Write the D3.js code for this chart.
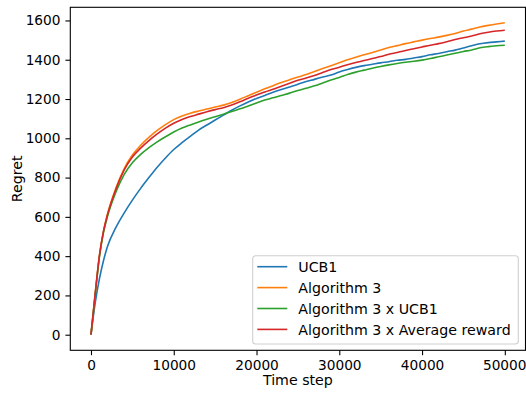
<!DOCTYPE html>
<html>
<head>
<meta charset="utf-8">
<script src="https://cdn.jsdelivr.net/npm/d3@7"></script>
<style>
  body { margin: 0; background: white; }
  text { font-family: "DejaVu Sans", sans-serif; fill: #000; }
</style>
</head>
<body>
<div id="viz"></div>
<script>
// values
var steps = [0, 500, 1000, 1500, 2000, 3000, 4000, 5000, 6000, 7000, 8000, 9000, 10000,
    11000, 12000, 13000, 14000, 15000, 16000, 17000, 18000, 19000, 20000,
    21000, 22000, 23000, 24000, 25000, 26000, 27000, 28000, 29000, 30000,
    31000, 32000, 33000, 34000, 35000, 36000, 37000, 38000, 39000, 40000,
    41000, 42000, 43000, 44000, 45000, 46000, 47000, 48000, 49000, 50000];

var ucb1 = [0, 160, 280, 375, 450, 545, 619, 685, 745, 800, 853, 900, 943,
    978, 1010, 1042, 1068, 1093, 1118, 1143, 1165, 1185, 1203,
    1218, 1234, 1248, 1261, 1275, 1289, 1300, 1312, 1322, 1338,
    1350, 1361, 1370, 1377, 1384, 1390, 1397, 1402, 1409, 1416,
    1425, 1432, 1441, 1449, 1460, 1471, 1481, 1487, 1491, 1495];

var alg3 = [0, 205, 395, 525, 615, 745, 845, 915, 965, 1005, 1040, 1070, 1095,
    1114, 1128, 1139, 1149, 1159, 1169, 1182, 1199, 1217, 1235,
    1252, 1268, 1284, 1298, 1312, 1325, 1340, 1355, 1370, 1385,
    1400, 1413, 1425, 1437, 1450, 1462, 1472, 1482, 1491, 1500,
    1508, 1515, 1524, 1534, 1546, 1556, 1567, 1575, 1582, 1588];

var alg3Ucb1 = [0, 200, 390, 518, 603, 725, 815, 875, 918, 952, 982, 1008, 1032,
    1052, 1068, 1083, 1097, 1110, 1123, 1136, 1150, 1165, 1180,
    1195, 1206, 1218, 1230, 1243, 1255, 1267, 1282, 1297, 1310,
    1325, 1337, 1347, 1357, 1366, 1374, 1381, 1387, 1392, 1398,
    1406, 1415, 1424, 1433, 1442, 1450, 1461, 1467, 1471, 1474];

var alg3Avg = [0, 205, 398, 525, 612, 740, 838, 905, 950, 988, 1022, 1052, 1077,
    1096, 1111, 1123, 1135, 1146, 1156, 1169, 1186, 1204, 1220,
    1236, 1250, 1265, 1280, 1295, 1307, 1320, 1335, 1350, 1362,
    1375, 1386, 1396, 1406, 1416, 1428, 1437, 1447, 1456, 1465,
    1474, 1482, 1492, 1503, 1512, 1521, 1532, 1540, 1546, 1550];

var names = ["UCB1", "Algorithm 3", "Algorithm 3 x UCB1", "Algorithm 3 x Average reward"];
var colors = ["#1f77b4", "#ff7f0e", "#2ca02c", "#d62728"];
var xTicks = [0, 10000, 20000, 30000, 40000, 50000];
var yTicks = [0, 200, 400, 600, 800, 1000, 1200, 1400, 1600];

var series = [ucb1, alg3, alg3Ucb1, alg3Avg];

var W = 526, H = 394,
    margin = { top: 7.3, right: 0.5, bottom: 43.7, left: 70.3 },
    width = W - margin.left - margin.right,
    height = H - margin.top - margin.bottom,
    fontSize = 14.2,
    tickFont = 13.7;

var svg = d3.select('#viz').append('svg')
    .attr('width', W)
    .attr('height', H);

var g = svg.append('g')
    .attr('transform', 'translate(' + margin.left + ',' + margin.top + ')');

var xScale = d3.scaleLinear().domain([-2500, 52500]).range([0, width]);
var yScale = d3.scaleLinear().domain([-79.4, 1667]).range([height, 0]);

// lines
var line = d3.line()
    .x(function(d, i) { return xScale(steps[i]); })
    .y(function(d) { return yScale(d); })
    .curve(d3.curveMonotoneX);

g.selectAll('path.series').data(series)
    .enter().append('path')
    .attr('class', 'series')
    .attr('d', line)
    .attr('fill', 'none')
    .attr('stroke', function(d, i) { return colors[i]; })
    .attr('stroke-width', 1.6);

// axes
var xAxis = g.append('g')
    .attr('transform', 'translate(0,' + height + ')')
    .call(d3.axisBottom(xScale).tickValues(xTicks).tickFormat(d3.format('d'))
        .tickSize(4.9).tickPadding(4.9).tickSizeOuter(0));

var yAxis = g.append('g')
    .call(d3.axisLeft(yScale).tickValues(yTicks).tickFormat(d3.format('d'))
        .tickSize(4.9).tickPadding(4.9).tickSizeOuter(0));

[xAxis, yAxis].forEach(function(ax) {
    ax.select('.domain').remove();
    ax.selectAll('line').attr('stroke', '#000').attr('stroke-width', 1.1);
    ax.selectAll('text').style('font-size', tickFont + 'px')
        .style('font-family', '"DejaVu Sans", sans-serif').attr('fill', '#000');
});
// last x label sits right at the window edge
xAxis.selectAll('.tick text').filter(function(d) { return d === 50000; })
    .attr('dx', '-0.6');

// frame
g.append('rect')
    .attr('x', 0).attr('y', 0)
    .attr('width', width).attr('height', height)
    .attr('fill', 'none')
    .attr('stroke', '#000')
    .attr('stroke-width', 1.1);

// axis labels
svg.append('text')
    .attr('x', margin.left + width / 2)
    .attr('y', 385)
    .attr('text-anchor', 'middle')
    .style('font-size', fontSize + 'px')
    .text('Time step');

svg.append('text')
    .attr('transform', 'translate(22,' + (margin.top + height / 2) + ') rotate(-90)')
    .attr('text-anchor', 'middle')
    .style('font-size', fontSize + 'px')
    .text('Regret');

// legend
var legend = svg.append('g').attr('transform', 'translate(252.7,255.7)');
legend.append('rect')
    .attr('width', 265.6).attr('height', 88.3)
    .attr('rx', 3).attr('ry', 3)
    .attr('fill', 'white').attr('fill-opacity', 0.8)
    .attr('stroke', '#d0d0d0').attr('stroke-width', 1.1);

var rows = legend.selectAll('g.row').data(names)
    .enter().append('g')
    .attr('class', 'row')
    .attr('transform', function(d, i) { return 'translate(0,' + (11 + i * 20.9) + ')'; });

rows.append('line')
    .attr('x1', 4.6).attr('x2', 34.6)
    .attr('stroke', function(d, i) { return colors[i]; })
    .attr('stroke-width', 1.6);

rows.append('text')
    .attr('x', 45.6)
    .attr('dy', '0.36em')
    .style('font-size', fontSize + 'px')
    .text(function(d) { return d; });
</script>
</body>
</html>
